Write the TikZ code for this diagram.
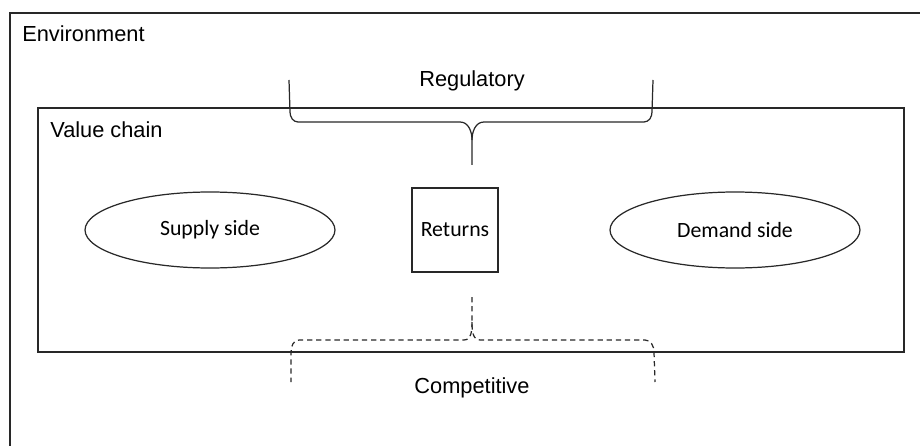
\documentclass[tikz,border=0pt]{standalone}
\usepackage{fontspec}
\setmainfont{Liberation Sans}
\newfontfamily\bodyfont{Carlito}
\usepackage{tikz}
\usetikzlibrary{shapes,positioning,calc}
\definecolor{vcline}{RGB}{40,40,40}
\tikzstyle{sidebox} = [ellipse, minimum width=5cm, minimum height=1.52cm, inner sep=0pt, draw=vcline, line width=0.7pt, font=\bodyfont\fontsize{12.4}{14}\selectfont]
\tikzstyle{retbox} = [rectangle, minimum width=1.72cm, minimum height=1.68cm, inner sep=0pt, draw=vcline, line width=0.7pt, font=\bodyfont\fontsize{12.4}{14}\selectfont]
\tikzstyle{label} = [inner sep=0pt, font=\fontsize{12.4}{14}\selectfont]
\tikzstyle{brace} = [draw=vcline, line width=0.7pt]

\begin{document}
\begin{tikzpicture}[x=0.02cm, y=-0.02cm]
\useasboundingbox (0,0) rectangle (920,446);

% Environment
\draw[vcline, line width=0.8pt] (10,446) -- (10,13) -- (920,13);
\node[label, anchor=base west] (env) at (22,42) {Environment};

% Value chain
\draw[vcline, line width=0.8pt] (38,108) rectangle (904,352);
\node[label, anchor=base west] (vc) at (50,137) {Value chain};

% Sides and returns
\node[sidebox] (supply) at (210,230) {Supply side};
\node[retbox] (ret) at (455,230) {Returns};
\node[sidebox] (demand) at (735,230) {Demand side};

% Regulatory
\node[label, anchor=base] (reg) at (472,87) {Regulatory};
\coordinate (regl) at (289,80);
\coordinate (regr) at (653,80);
\coordinate (regtip) at (472,165);
\draw[brace] (regl) -- (290,112) to[out=-90,in=180] (298,122) -- (460,122)
  to[out=0,in=90] (472,140) -- (regtip);
\draw[brace] (regr) -- (652,112) to[out=-90,in=0] (644,122) -- (484,122)
  to[out=180,in=90] (472,140);

% Competitive
\node[label, anchor=base] (comp) at (472,393) {Competitive};
\coordinate (compl) at (291,382);
\coordinate (compr) at (655,382);
\coordinate (comptip) at (472,297);
\draw[brace, dash pattern=on 3pt off 2.2pt] (comptip) -- (472,322)
  to[out=-90,in=180] (480,340) -- (645,340) to[out=0,in=90] (654,352) -- (compr);
\draw[brace, dash pattern=on 3pt off 2.2pt] (472,322)
  to[out=-90,in=0] (464,340) -- (299,340) to[out=180,in=90] (291,352) -- (compl);
\end{tikzpicture}
\end{document}
